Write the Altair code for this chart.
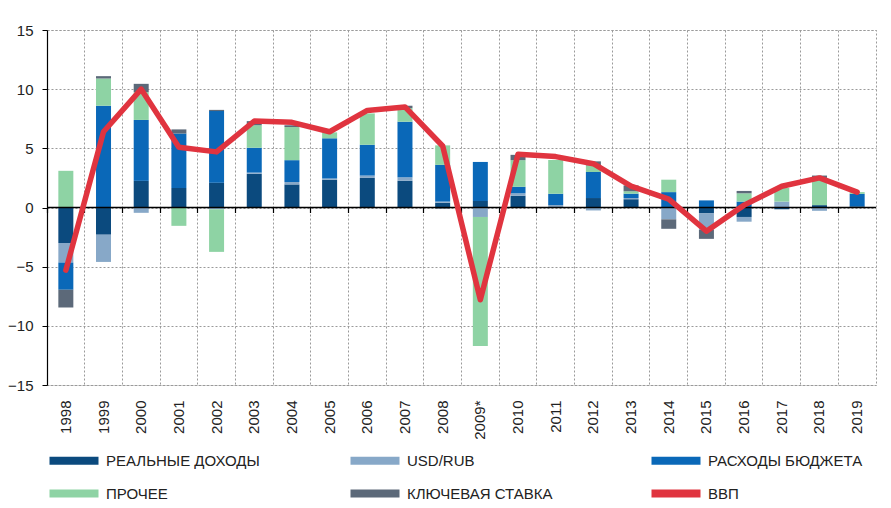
import altair as alt
import pandas as pd

years = ["1998", "1999", "2000", "2001", "2002", "2003", "2004", "2005", "2006", "2007", "2008",
         "2009*", "2010", "2011", "2012", "2013", "2014", "2015", "2016", "2017", "2018", "2019"]

real_income = [-3.0, -2.3, 2.25, 1.65, 2.1, 2.85, 1.95, 2.35, 2.5, 2.25, 0.4,
               0.55, 1.0, 0.05, 0.8, 0.7, 0.0, -0.5, -0.8, -0.15, 0.2, 0.1]
usd_rub = [-1.65, -2.3, -0.45, 0.0, -0.15, 0.1, 0.2, 0.1, 0.2, 0.3, 0.1,
           -0.8, 0.2, 0.17, -0.25, 0.1, -1.0, -1.4, -0.4, 0.5, -0.28, 0.0]
budget = [-2.3, 8.6, 5.15, 4.6, 6.05, 2.1, 1.85, 3.4, 2.6, 4.7, 3.1,
          3.3, 0.55, 0.95, 2.2, 0.37, 1.3, 0.6, 0.5, 0.0, 0.0, 1.05]
other = [3.1, 2.3, 2.35, -1.55, -3.6, 1.9, 2.8, 0.5, 2.65, 1.15, 1.65,
         -10.9, 2.25, 2.85, 0.55, 0.2, 1.05, 0.0, 0.7, 1.15, 2.3, 0.15]
key_rate = [-1.5, 0.2, 0.7, 0.35, 0.1, 0.35, 0.15, 0.0, 0.0, 0.2, -0.1,
            0.0, 0.45, 0.0, 0.35, 0.5, -0.8, -0.75, 0.2, 0.0, 0.2, 0.0]
gdp = [-5.3, 6.4, 10.0, 5.1, 4.7, 7.3, 7.2, 6.4, 8.2, 8.5, 5.2,
       -7.8, 4.5, 4.3, 3.7, 1.8, 0.7, -2.0, 0.2, 1.8, 2.5, 1.3]

series_names = ["РЕАЛЬНЫЕ ДОХОДЫ", "USD/RUB", "РАСХОДЫ БЮДЖЕТА", "ПРОЧЕЕ", "КЛЮЧЕВАЯ СТАВКА", "ВВП"]
colors = ["#0b4a7e", "#87a8c8", "#0a68b8", "#8ed3a4", "#5c6979", "#e0343f"]
y_ticks = [-15, -10, -5, 0, 5, 10, 15]

FONT = "Liberation Sans"

rows = []
for i, yr in enumerate(years):
    for k, (name, vals) in enumerate(zip(series_names[:5], [real_income, usd_rub, budget, other, key_rate])):
        rows.append({"year": yr, "series": name, "value": vals[i], "k": k})
bars_df = pd.DataFrame(rows)
gdp_df = pd.DataFrame({"year": years, "series": "ВВП", "value": gdp})
zero_df = pd.DataFrame({"z": [0]})

x_scale = alt.Scale(domain=years, paddingInner=0, paddingOuter=0)
y_scale = alt.Scale(domain=[-15, 15], nice=False)
color_scale = alt.Scale(domain=series_names, range=colors)

y_axis = alt.Axis(title=None, values=y_ticks, labelFont=FONT, labelFontSize=15, labelColor="#222",
                  labelPadding=9, tickSize=5, tickColor="#000", domainColor="#000", domainWidth=1.2,
                  grid=True, gridColor="#9a9a9a", gridDash=[2, 2], gridWidth=1)

legend = alt.Legend(title=None, orient="none", legendX=0, legendY=423, direction="horizontal",
                    columns=3, gridAlign="all", columnPadding=87, rowPadding=17,
                    symbolType="M-1,-0.8H8.8V0.8H-1Z", symbolSize=100, symbolStrokeWidth=0,
                    symbolOpacity=1, labelFont=FONT, labelFontSize=15, labelColor="#222",
                    labelOffset=44, labelLimit=400)

bars = alt.Chart(bars_df).mark_bar(size=15).encode(
    x=alt.X("year:N", scale=x_scale,
            axis=alt.Axis(title=None, labels=False, ticks=False, domain=False, grid=True,
                          gridColor="#9a9a9a", gridDash=[2, 2], gridWidth=1, bandPosition=0)),
    y=alt.Y("value:Q", stack="zero", scale=y_scale, axis=y_axis),
    color=alt.Color("series:N", scale=color_scale, legend=legend),
    order=alt.Order("k:Q"),
)

zero_rule = alt.Chart(zero_df).mark_rule(color="#000", strokeWidth=1.5).encode(
    y=alt.Y("z:Q", scale=y_scale, axis=y_axis)
)

tick_layer = alt.Chart(gdp_df).mark_point(opacity=0).encode(
    x=alt.X("year:N", scale=x_scale,
            axis=alt.Axis(title=None, orient="bottom", offset=-177.5, labels=False, ticks=True,
                          tickColor="#000", tickSize=5, tickWidth=1.2, domain=False, grid=False,
                          bandPosition=0)),
    y=alt.Y("value:Q", scale=y_scale, axis=y_axis),
)

line = alt.Chart(gdp_df).mark_line(strokeWidth=5.5, strokeJoin="round", strokeCap="round").encode(
    x=alt.X("year:N", scale=x_scale,
            axis=alt.Axis(title=None, orient="bottom", labelAngle=-90, labelAlign="right",
                          labelBaseline="middle", labelFont=FONT, labelFontSize=15,
                          labelColor="#222", labelPadding=15, ticks=False, domain=False, grid=False)),
    y=alt.Y("value:Q", scale=y_scale, axis=y_axis),
    color=alt.Color("series:N", scale=color_scale, legend=None),
)

chart = alt.layer(bars, zero_rule, tick_layer, line).resolve_axis(x="independent").properties(
    width=829, height=355,
    autosize=alt.AutoSizeParams(type="none"),
    padding={"left": 39, "top": 22, "right": 5, "bottom": 116},
).configure_view(stroke="#9a9a9a", strokeDash=[2, 2], strokeWidth=1)

chart.save("out.html", embed_options={"renderer": "svg", "actions": False})
